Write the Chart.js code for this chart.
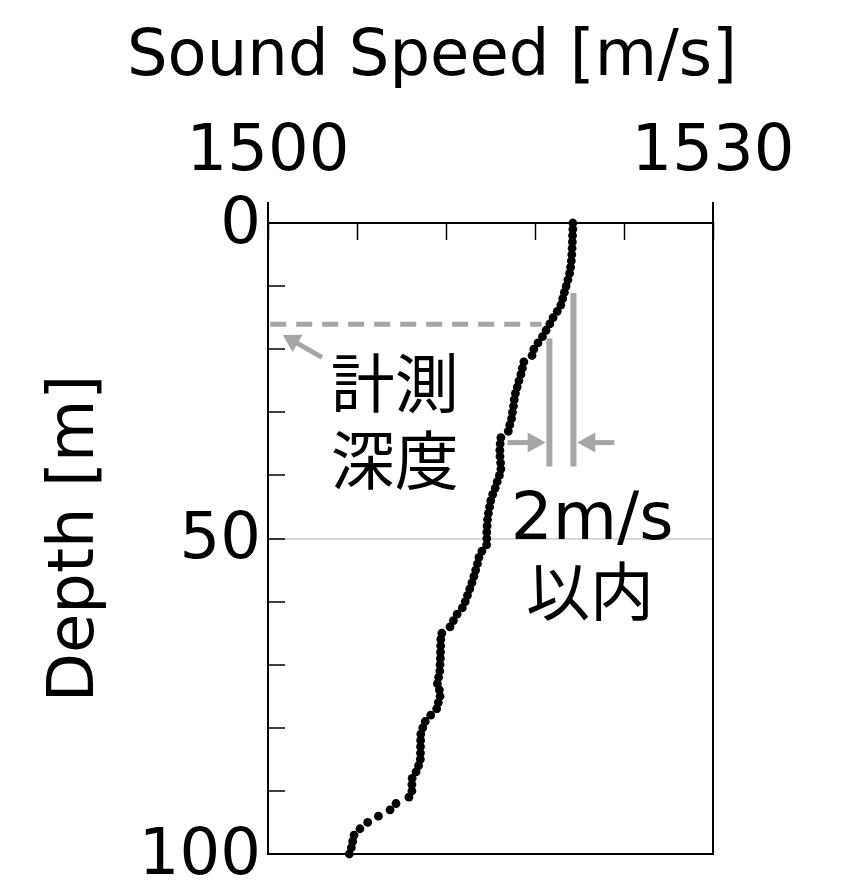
<!DOCTYPE html>
<html>
<head>
<meta charset="utf-8">
<script src="https://cdn.jsdelivr.net/npm/chart.js@4"></script>
<style>
html,body{margin:0;padding:0;background:#fff;}
#wrap{width:846px;height:885px;position:relative;}
</style>
</head>
<body>
<div id="wrap"><canvas id="c"></canvas></div>
<script>
// ---- data ----
const depths = [0,1,2,3,4,5,6,7,8,9,10,11,12,13,14,15,16,17,18,19,20,
  21,22,23,24,25,26,27,28,29,30,31,32,33,34,35,36,37,38,39,40,
  41,42,43,44,45,46,47,48,49,50,51,52,53,54,55,56,57,58,59,60,
  61,62,63,64,65,66,67,68,69,70,71,72,73,74,75,76,77,78,79,80,
  81,82,83,84,85,86,87,88,89,90,91,92,93,94,95,96,97,98,99,100];
const soundSpeeds = [1520.55,1520.55,1520.53,1520.52,1520.50,1520.48,1520.45,1520.40,1520.33,1520.22,1520.10,
  1519.98,1519.87,1519.74,1519.50,1519.22,1519.00,1518.75,1518.50,1518.20,1517.92,
  1517.80,1517.25,1517.15,1517.05,1516.92,1516.80,1516.68,1516.60,1516.55,1516.48,
  1516.42,1516.30,1516.20,1515.70,1515.65,1515.63,1515.64,1515.68,1515.70,1515.60,
  1515.45,1515.32,1515.15,1515.02,1514.94,1514.86,1514.80,1514.77,1514.75,1514.75,
  1514.74,1514.42,1514.22,1514.12,1514.00,1513.88,1513.75,1513.60,1513.45,1513.30,
  1513.10,1512.75,1512.50,1512.27,1511.72,1511.65,1511.64,1511.63,1511.62,1511.60,
  1511.58,1511.50,1511.42,1511.55,1511.60,1511.48,1511.37,1510.97,1510.60,1510.43,
  1510.30,1510.29,1510.28,1510.28,1510.27,1510.15,1509.98,1509.72,1509.70,1509.70,
  1509.50,1508.63,1508.23,1507.44,1506.72,1506.20,1505.80,1505.71,1505.62,1505.48];
const xTickLabels = [1500, 1530];
const yTickLabels = [0, 50, 100];
const xTitle = 'Sound Speed [m/s]';
const yTitle = 'Depth [m]';
const noteDepthLines = ['計測', '深度'];
const noteTolLines = ['2m/s', '以内'];

// ---- styling ----
const FONT = 'DejaVu Sans';
const JFONT = "'Noto Sans CJK JP', 'DejaVu Sans', sans-serif";
const GRAY = '#a6a6a6';
Chart.defaults.font.family = FONT;
Chart.defaults.color = '#000';

function arrow(ctx, x1, y1, x2, y2, w, headLen, headHalf) {
  const a = Math.atan2(y2 - y1, x2 - x1);
  const bx = x2 - headLen * Math.cos(a), by = y2 - headLen * Math.sin(a);
  ctx.beginPath(); ctx.moveTo(x1, y1); ctx.lineTo(bx + 1 * Math.cos(a), by + 1 * Math.sin(a));
  ctx.lineWidth = w; ctx.strokeStyle = GRAY; ctx.setLineDash([]); ctx.stroke();
  ctx.beginPath(); ctx.moveTo(x2, y2);
  ctx.lineTo(bx + headHalf * Math.sin(a), by - headHalf * Math.cos(a));
  ctx.lineTo(bx - headHalf * Math.sin(a), by + headHalf * Math.cos(a));
  ctx.closePath(); ctx.fillStyle = GRAY; ctx.fill();
}

const annotations = {
  id: 'annotations',
  beforeDatasetsDraw(chart) {
    const ctx = chart.ctx, xs = chart.scales.x, ys = chart.scales.y;
    const X = v => xs.getPixelForValue(v), Y = v => ys.getPixelForValue(v);
    ctx.save();
    ctx.beginPath();
    ctx.setLineDash([16, 10]);
    ctx.lineWidth = 5; ctx.strokeStyle = GRAY;
    ctx.moveTo(X(1500.15), Y(16.05)); ctx.lineTo(X(1518.45), Y(16.05));
    ctx.stroke();
    ctx.setLineDash([]);
    arrow(ctx, X(1503.64), Y(21.3), X(1501.0), Y(17.75), 5, 17, 10);
    ctx.lineWidth = 6; ctx.strokeStyle = GRAY;
    ctx.beginPath();
    ctx.moveTo(X(1518.97), Y(18.3)); ctx.lineTo(X(1518.97), Y(38.6));
    ctx.moveTo(X(1520.59), Y(11.1)); ctx.lineTo(X(1520.59), Y(38.6));
    ctx.stroke();
    arrow(ctx, X(1516.15), Y(34.8), X(1518.72), Y(34.8), 5, 18, 10);
    arrow(ctx, X(1523.35), Y(34.8), X(1520.85), Y(34.8), 5, 18, 10);
    ctx.fillStyle = '#000';
    ctx.textAlign = 'center';
    ctx.textBaseline = 'middle';
    ctx.font = '64px ' + JFONT;
    ctx.fillText(noteDepthLines[0], X(1508.55), Y(25.35));
    ctx.fillText(noteDepthLines[1], X(1508.55), Y(37.5));
    ctx.fillText(noteTolLines[1], X(1521.7), Y(58.2));
    ctx.textBaseline = 'alphabetic';
    ctx.font = '66px ' + FONT;
    ctx.fillText(noteTolLines[0], X(1521.86), Y(50));
    ctx.restore();
  }
};

const frame = {
  id: 'frame',
  afterDraw(chart) {
    const ctx = chart.ctx;
    const {left, right, top, bottom} = chart.chartArea;
    ctx.save();
    ctx.strokeStyle = '#000'; ctx.lineWidth = 2;
    ctx.beginPath();
    ctx.moveTo(left, top - 21); ctx.lineTo(left, top);
    ctx.moveTo(right, top - 21); ctx.lineTo(right, bottom);
    ctx.moveTo(left, bottom); ctx.lineTo(right + 1, bottom);
    ctx.stroke();
    ctx.restore();
  }
};

new Chart(document.getElementById('c'), {
  type: 'scatter',
  data: {
    datasets: [{
      data: depths.map((d, i) => ({x: soundSpeeds[i], y: d})),
      pointRadius: 4.4,
      pointHoverRadius: 4.4,
      pointBackgroundColor: '#000',
      pointBorderColor: '#000',
      pointBorderWidth: 0,
      showLine: false,
      clip: false
    }]
  },
  options: {
    responsive: true,
    maintainAspectRatio: false,
    animation: false,
    devicePixelRatio: 1,
    layout: { padding: { left: 18, right: 0, top: 0, bottom: 31 } },
    plugins: {
      legend: { display: false },
      tooltip: { enabled: false },
      title: {
        display: true, text: xTitle, color: '#000', align: 'center',
        font: { family: FONT, size: 64, weight: 'normal', lineHeight: 1.2 },
        padding: { top: 20, bottom: 0 }
      }
    },
    scales: {
      x: {
        type: 'linear', position: 'top', min: 1500, max: 1530,
        ticks: {
          stepSize: 6, autoSkip: false, maxRotation: 0, minRotation: 0,
          padding: 48, color: '#000',
          font: { family: FONT, size: 64 },
          callback: v => xTickLabels.includes(v) ? String(v) : ''
        },
        grid: { drawOnChartArea: false, drawTicks: true, tickLength: -17, tickColor: '#000', tickWidth: 1.5 },
        border: { display: true, color: '#000', width: 2 },
        afterFit: s => { s.height = 126.2; s.paddingLeft = 0; s.paddingRight = 133; }
      },
      y: {
        type: 'linear', position: 'left', min: 0, max: 100, reverse: true,
        ticks: {
          stepSize: 10, autoSkip: false, padding: 24, color: '#000', labelOffset: 3,
          font: { family: FONT, size: 64 },
          callback: v => yTickLabels.includes(v) ? String(v) : ''
        },
        grid: {
          drawOnChartArea: true, drawTicks: true, tickLength: -17,
          color: c => (c.tick && c.tick.value === 50) ? '#d9d9d9' : 'rgba(0,0,0,0)',
          lineWidth: 2, tickColor: '#000', tickWidth: 1.5
        },
        border: { display: true, color: '#000', width: 2 },
        title: {
          display: true, text: yTitle, color: '#000',
          font: { family: FONT, size: 64, lineHeight: 1.2 },
          padding: { top: 20, bottom: 0 }
        },
        afterFit: s => { s.width = 250; s.paddingTop = 0; s.paddingBottom = 0; }
      }
    }
  },
  plugins: [annotations, frame]
});
</script>
</body>
</html>
